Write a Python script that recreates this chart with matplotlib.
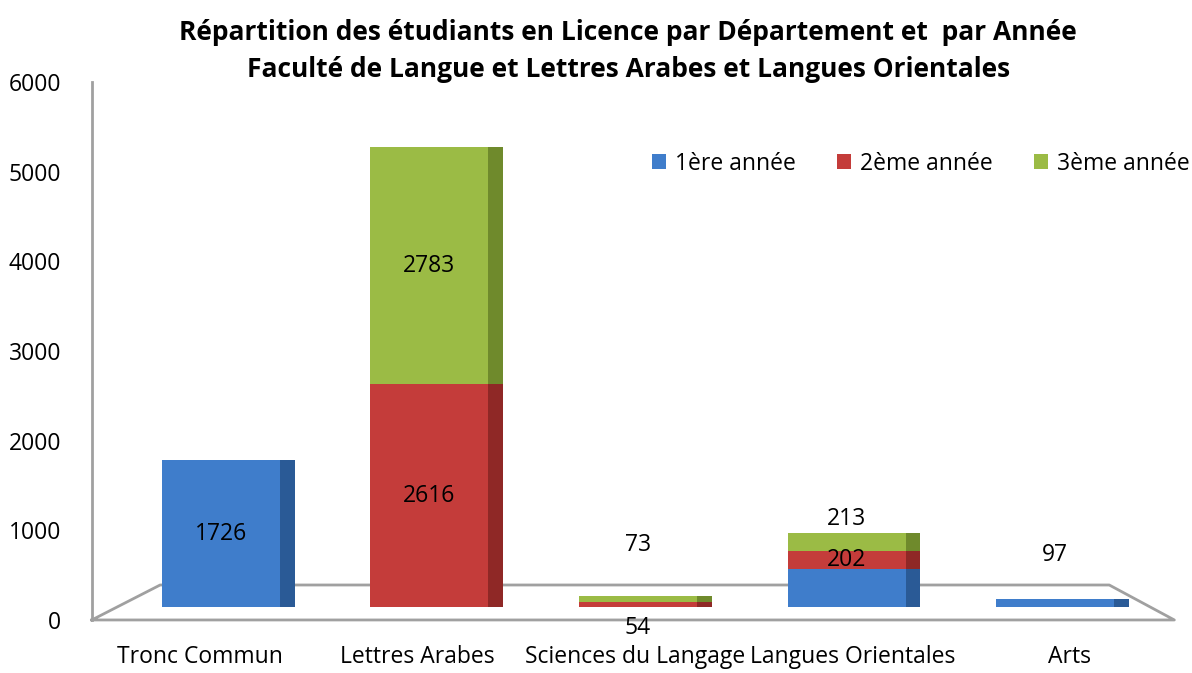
import numpy as np
import matplotlib
import matplotlib.pyplot as plt

matplotlib.rcParams['font.family'] = ['Open Sans', 'DejaVu Sans']

# données
departements = ['Tronc Commun', 'Lettres Arabes', 'Sciences du Langage', 'Langues Orientales', 'Arts']
annee1 = [1726, 0, 0, 450, 97]
annee2 = [0, 2616, 54, 202, 0]
annee3 = [0, 2783, 73, 213, 0]
series = ['1ère année', '2ème année', '3ème année']
labels1 = ['1726', '', '', '', '97']
labels2 = ['', '2616', '54', '202', '']
labels3 = ['', '2783', '73', '213', '']

couleurs = ['#3f7dcb', '#c43c3a', '#9bbb45']
cotes = ['#2a5a96', '#8f2826', '#6f8a2c']
gris = '#a0a0a0'

fig = plt.figure(figsize=(11.92, 6.73), dpi=100)
# axe principal (graduations) et axe des barres (plan avant du 3D)
ax = fig.add_axes([0.077, 0.0788, 0.91, 0.7994])
axb = fig.add_axes([0.077, 0.0981, 0.91, 0.759])
axb.patch.set_visible(False)
axb.axis('off')

x = np.arange(len(departements))
w = 0.566
bas = np.zeros(len(x))
for vals, c, cc, nom in zip([annee1, annee2, annee3], couleurs, cotes, series):
    vals = np.array(vals, dtype=float)
    axb.bar(x, vals, w, bottom=bas, color=c, label=nom, zorder=3)
    # face latérale pour l'effet 3D
    axb.bar(x + w / 2 + 0.035, vals, 0.07, bottom=bas, color=cc, zorder=2)
    bas += vals

# étiquettes au milieu des grands segments
cum = np.zeros(len(x))
for vals, labs in zip([annee1, annee2, annee3], [labels1, labels2, labels3]):
    vals = np.array(vals, dtype=float)
    for i in range(len(x)):
        if labs[i] != '' and vals[i] > 500:
            axb.text(x[i], cum[i] + vals[i] / 2, labs[i], ha='center', va='center', fontsize=16.5, zorder=5)
    cum += vals

# petites valeurs placées à part
axb.text(x[2], 730, labels3[2], ha='center', va='center', fontsize=16.5)
axb.text(x[2], -250, labels2[2], ha='center', va='center', fontsize=16.5, clip_on=False)
axb.text(x[3], 1030, labels3[3], ha='center', va='center', fontsize=16.5, zorder=5)
axb.text(x[3], 550, labels2[3], ha='center', va='center', fontsize=16.5, zorder=5)
axb.text(x[4], 610, labels1[4], ha='center', va='center', fontsize=16.5)
axb.set_ylim(0, 6000)
axb.set_xlim(-0.619, 4.582)

ax.set_ylim(0, 6000)
ax.set_xlim(-0.497, 4.49)
ax.set_yticks(np.arange(0, 6001, 1000))
ax.set_xticks(x)
ax.set_xticklabels(departements, fontsize=16.5)
ax.tick_params(axis='y', labelsize=16.5, length=0, pad=22)
ax.tick_params(axis='x', length=0, pad=18)
for s in ['top', 'right', 'bottom']:
    ax.spines[s].set_visible(False)
ax.spines['left'].set_color(gris)
ax.spines['left'].set_linewidth(2)

# plancher en perspective
ax.plot([0, 0.063, 0.938, 0.998, 0], [0, 0.065, 0.065, 0, 0], transform=ax.transAxes,
        color=gris, lw=2, clip_on=False, zorder=1)

h, l = axb.get_legend_handles_labels()
ax.legend(h, l, loc='upper right', bbox_to_anchor=(1.031, 0.909), ncol=3, frameon=False,
          fontsize=16.5, handlelength=0.6, handleheight=0.6, columnspacing=1.8, handletextpad=0.4)

fig.suptitle('Répartition des étudiants en Licence par Département et  par Année\n'
             'Faculté de Langue et Lettres Arabes et Langues Orientales',
             fontsize=19, fontweight='bold', x=0.527, y=0.972, linespacing=1.5)

plt.savefig('out.png', dpi=100)
